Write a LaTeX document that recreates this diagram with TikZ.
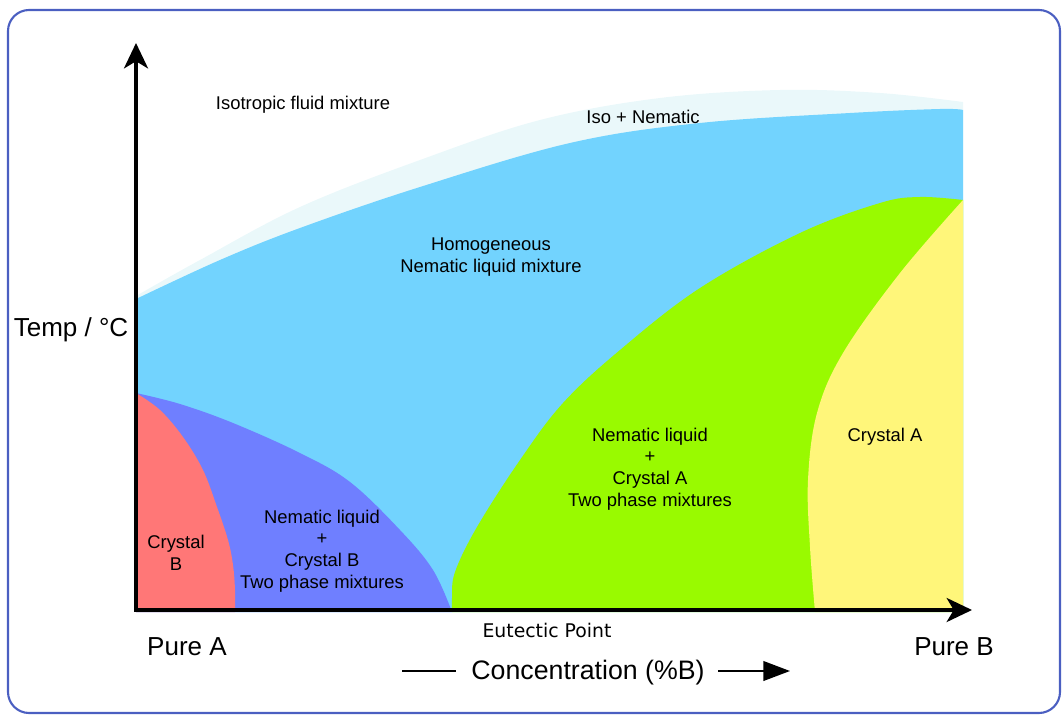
\documentclass[tikz,border=0pt]{standalone}
\usepackage{fontspec}
\usepackage{tikz}
\usetikzlibrary{arrows.meta,positioning}
\setmainfont{Liberation Sans}
\newfontfamily\eutfont{DejaVu Sans}
\definecolor{frameblue}{HTML}{4B5FC1}
\definecolor{isonem}{HTML}{EAF8FA}
\definecolor{nemblue}{HTML}{72D3FE}
\definecolor{crysBmix}{HTML}{6F7FFF}
\definecolor{crysB}{HTML}{FF7777}
\definecolor{crysAmix}{HTML}{99FA00}
\definecolor{crysA}{HTML}{FFF67A}
\tikzset{
  lbl/.style={font=\fontsize{13.1}{15.4}\selectfont, align=center, inner sep=0pt},
  biglbl/.style={font=\fontsize{18.5}{21}\selectfont, inner sep=0pt},
  axisline/.style={line width=2.8pt, -{Stealth[length=18pt,width=17pt,inset=5pt]}}
}

\begin{document}
\begin{tikzpicture}[x=0.025cm, y=-0.025cm]
    \useasboundingbox (0,0) rectangle (1062,715);

    % Frame
    \draw[frameblue, line width=1.5pt, rounded corners=15] (8,10) rectangle (1060,713);

    % Iso + Nematic band
    \fill[isonem] plot[smooth, tension=0.6] coordinates {(136,296) (200,260) (300,207) (420,160) (540,120) (660,98) (780,90) (880,93) (963,102)}
        -- (963,612) -- (136,612) -- cycle;

    % Homogeneous nematic region
    \fill[nemblue] plot[smooth, tension=0.6] coordinates {(136,299) (220,260) (300,228) (420,187) (570,143) (700,123) (850,113) (940,109) (963,110)}
        -- (963,612) -- (136,612) -- cycle;

    % Nematic + Crystal B
    \fill[crysBmix] plot[smooth, tension=0.6] coordinates {(136,393) (180,404) (233,423) (300,453) (350,482) (400,530) (433,570) (452,612)}
        -- (136,612) -- cycle;

    % Crystal B
    \fill[crysB] plot[smooth, tension=0.6] coordinates {(136,393) (160,410) (183,437) (203,470) (217,507) (228,540) (233,565) (235,590) (235,612)}
        -- (136,612) -- cycle;

    % Nematic + Crystal A
    \fill[crysAmix] plot[smooth, tension=0.6] coordinates {(452,612) (452,598) (455,572) (477,527) (520,460) (563,403) (620,350) (700,288) (800,233) (880,203) (920,197) (963,200)}
        -- (963,612) -- cycle;

    % Crystal A
    \fill[crysA] plot[smooth, tension=0.6] coordinates {(963,200) (900,273) (843,353) (817,413) (808,480) (810,547) (815,612)}
        -- (963,612) -- cycle;

    % Axes
    \coordinate (origin) at (136,610);
    \coordinate (ytip) at (136,43);
    \coordinate (xtip) at (972,610);
    \draw[axisline] ([yshift=-1.4pt]origin) -- (ytip);
    \draw[axisline] ([xshift=-1.4pt]origin) -- (xtip);

    % Region labels
    \node[lbl] (iso) at (303,105) {Isotropic fluid mixture};
    \node[lbl] (isonem) at (643,117) {Iso + Nematic};
    \node[lbl] (homo) at (491,257) {Homogeneous\\Nematic liquid mixture};
    \node[lbl] (mixA) at (650,469) {Nematic liquid\\+\\Crystal A\\Two phase mixtures};
    \node[lbl] (xtalA) at (885,437) {Crystal A};
    \node[lbl] (xtalB) at (176,553) {Crystal\\B};
    \node[lbl] (mixB) at (322,551) {Nematic liquid\\+\\Crystal B\\Two phase mixtures};

    % Axis labels
    \node[font=\eutfont\fontsize{13.4}{15}\selectfont, inner sep=0pt] (eut) at (547,630) {Eutectic Point};
    \node[biglbl] (pureA) at (187,647) {Pure A};
    \node[biglbl] (pureB) at (954,647) {Pure B};
    \node[biglbl] (temp) at (71,330) {Temp / °C};
    \node[font=\fontsize{19}{22}\selectfont, inner sep=0pt] (conc) at (588,673) {Concentration (\%B)};

    \coordinate (concL1) at (402,671);
    \coordinate (concL2) at (456,671);
    \coordinate (concR1) at (718,671);
    \coordinate (concR2) at (790,671);
    \draw[line width=1.4pt] (concL1) -- (concL2);
    \draw[line width=1.4pt, -{Triangle[length=19pt,width=14pt]}] (concR1) -- (concR2);

\end{tikzpicture}
\end{document}
